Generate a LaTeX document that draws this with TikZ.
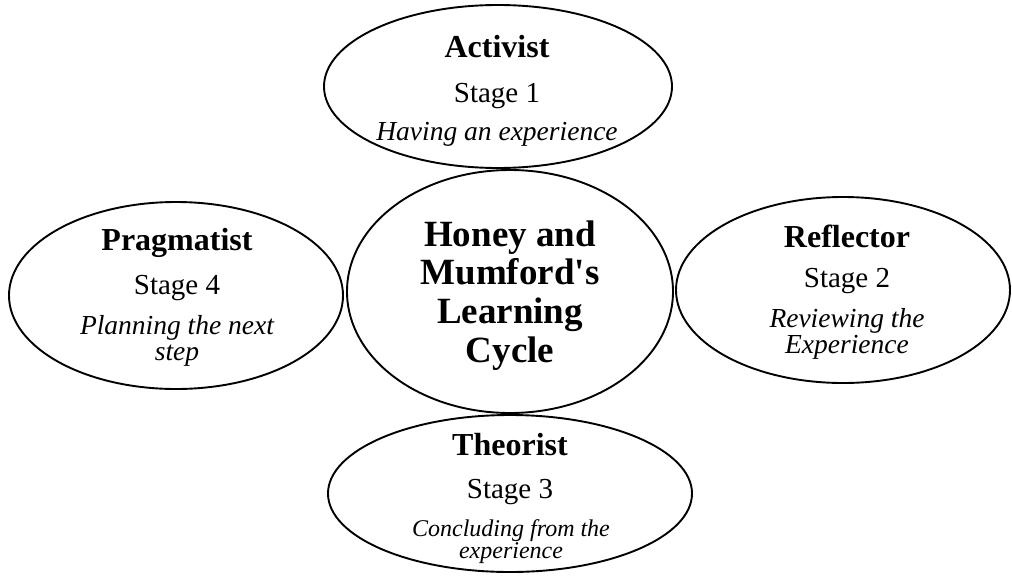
\documentclass[tikz,border=0pt]{standalone}
\usepackage{fontspec}
\setmainfont{Liberation Serif}
\usetikzlibrary{shapes.geometric}
\tikzset{
  bubble/.style={draw, ellipse, line width=1.9pt, inner sep=0pt, outer sep=0pt},
  head/.style={anchor=base, inner sep=0pt, font=\fontsize{32}{36}\selectfont\bfseries},
  stage/.style={anchor=base, inner sep=0pt, font=\fontsize{29}{32}\selectfont},
  note/.style={anchor=base, inner sep=0pt, font=\fontsize{27.5}{28}\selectfont\itshape},
  smallnote/.style={note, font=\fontsize{24}{25}\selectfont\itshape},
  title/.style={anchor=base, inner sep=0pt, font=\fontsize{37}{38.5}\selectfont\bfseries}
}
\begin{document}
\begin{tikzpicture}[x=1pt, y=-1pt]
\useasboundingbox (0,0) rectangle (1012,584);

% the five ellipses
\node[bubble, minimum width=348pt, minimum height=163pt] (act) at (498,86.5) {};
\node[bubble, minimum width=326pt, minimum height=243pt] (hub) at (510,291.5) {};
\node[bubble, minimum width=334pt, minimum height=187pt] (prag) at (176,295.5) {};
\node[bubble, minimum width=334pt, minimum height=186pt] (refl) at (843,290) {};
\node[bubble, minimum width=364pt, minimum height=157pt] (theo) at (510,493.5) {};

% centre title
\node[title] (t1) at (510,246) {Honey and};
\node[title] (t2) at (510,284) {Mumford\textquotesingle s};
\node[title] (t3) at (510,323) {Learning};
\node[title] (t4) at (510,362) {Cycle};

% Stage 1
\node[head]  (a1) at (497,57)  {Activist};
\node[stage] (a2) at (497,102) {Stage 1};
\node[note]  (a3) at (497,140) {Having an experience};

% Stage 2
\node[head]  (r1) at (847,247) {Reflector};
\node[stage] (r2) at (847,287) {Stage 2};
\node[note]  (r3) at (847,327) {Reviewing the};
\node[note]  (r4) at (847,353) {Experience};

% Stage 3
\node[head]  (h1) at (510,455) {Theorist};
\node[stage] (h2) at (510,498) {Stage 3};
\node[smallnote] (h3) at (511,536) {Concluding from the};
\node[smallnote] (h4) at (511,558) {experience};

% Stage 4
\node[head]  (p1) at (177,250) {Pragmatist};
\node[stage] (p2) at (177,294) {Stage 4};
\node[note]  (p3) at (177,334) {Planning the next};
\node[note]  (p4) at (177,360) {step};
\end{tikzpicture}
\end{document}
